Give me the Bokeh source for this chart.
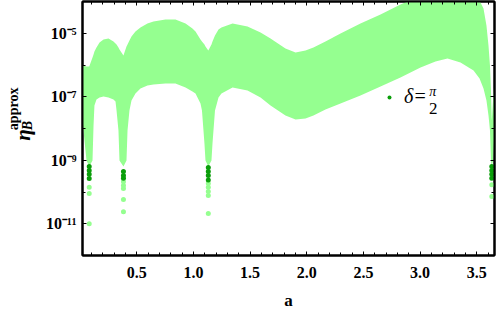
import numpy as np
from bokeh.plotting import figure
from bokeh.layouts import row
from bokeh.models import (FixedTicker, CustomJSTickFormatter, LinearAxis, LogAxis,
                          Label, Legend, LegendItem)
from bokeh.embed import file_html
from bokeh.resources import INLINE

# ---- data (envelope of the densely oscillating band) ----
a_env = [0.021, 0.029, 0.056, 0.080, 0.109, 0.118, 0.126, 0.144, 0.171, 0.206,
         0.250, 0.294, 0.312, 0.321, 0.338, 0.347, 0.382, 0.409, 0.418, 0.435,
         0.453, 0.488, 0.532, 0.594, 0.647, 0.753, 0.841, 0.930, 0.991, 1.018,
         1.062, 1.075, 1.097, 1.106, 1.131, 1.159, 1.168, 1.190, 1.221, 1.247,
         1.345, 1.477, 1.592, 1.680, 1.812, 1.901, 1.989, 2.059, 2.165, 2.298,
         2.474, 2.651, 2.827, 3.004, 3.136, 3.242, 3.357, 3.472, 3.525, 3.560,
         3.586, 3.604, 3.617, 3.626, 3.633, 3.644, 3.657]

eta_upper = [9.6e-7, 9.6e-7, 9.0e-7, 9.0e-7, 1.72e-6, 2.14e-6, 2.66e-6, 3.56e-6, 5.1e-6, 6.4e-6,
             6.8e-6, 5.5e-6, 4.75e-6, 4.4e-6, 3.56e-6, 3.08e-6, 1.99e-6, 3.8e-6, 4.4e-6, 5.9e-6,
             7.9e-6, 1.14e-5, 1.52e-5, 2.03e-5, 2.34e-5, 2.71e-5, 2.71e-5, 2.03e-5, 1.41e-5, 1.14e-5,
             6.4e-6, 5.5e-6, 4.4e-6, 3.8e-6, 2.86e-6, 4.4e-6, 5.5e-6, 8.5e-6, 1.31e-5, 1.52e-5,
             2.03e-5, 1.63e-5, 1.06e-5, 6.8e-6, 3.3e-6, 2.48e-6, 2.86e-6, 3.56e-6, 5.5e-6, 9.8e-6,
             2.03e-5, 3.9e-5, 8.0e-5, 1.5e-4, 2.1e-4, 2.2e-4, 1.9e-4, 1.4e-4, 1.07e-4, 6.0e-5,
             1.75e-5, 4.1e-6, 9.6e-7, 1.57e-7, 1.79e-8, 7.6e-8, 3.25e-7]

eta_lower = [2.07e-8, 8.6e-9, 9.8e-10, 6.4e-10, 9.8e-10, 1.24e-8, 5.3e-8, 8.2e-8, 9.5e-8, 1.02e-7,
             9.5e-8, 8.2e-8, 7.1e-8, 3.69e-8, 8.6e-9, 9.8e-10, 6.4e-10, 9.8e-10, 8.6e-9, 3.69e-8,
             7.6e-8, 1.26e-7, 1.82e-7, 2.26e-7, 2.43e-7, 2.61e-7, 2.61e-7, 1.95e-7, 1.46e-7, 1.26e-7,
             6.1e-8, 3.69e-8, 3.37e-9, 9.8e-10, 6.4e-10, 9.8e-10, 3.37e-9, 3.69e-8, 9.5e-8, 1.26e-7,
             1.95e-7, 1.57e-7, 9.5e-8, 5.3e-8, 2.56e-8, 1.92e-8, 2.07e-8, 2.56e-8, 3.96e-8, 6.1e-8,
             1.09e-7, 2.10e-7, 4.04e-7, 8.3e-7, 1.29e-6, 1.60e-6, 1.20e-6, 6.7e-7, 3.76e-7, 1.82e-7,
             7.6e-8, 2.56e-8, 8.6e-9, 9.8e-10, 6.4e-10, 9.8e-10, 8.6e-9]

# isolated sample points below the dips
a_light_pts = [0.080, 0.080, 0.080,
               0.382, 0.382, 0.382, 0.382, 0.382,
               1.131, 1.131, 1.131, 1.131, 1.131,
               3.633, 3.633]
eta_light_pts = [1.4e-10, 9.0e-11, 1.0e-11,
                 2.1e-10, 1.6e-10, 1.29e-10, 5.8e-11, 2.4e-11,
                 1.85e-10, 1.4e-10, 1.04e-10, 7.8e-11, 2.1e-11,
                 1.7e-10, 7.2e-11]

a_dark_pts = [0.080, 0.080, 0.080, 0.080,
              0.382, 0.382, 0.382,
              1.131, 1.131, 1.131, 1.131,
              3.633, 3.633, 3.633, 3.633]
eta_dark_pts = [6.4e-10, 4.75e-10, 3.6e-10, 2.66e-10,
                4.4e-10, 3.3e-10, 2.7e-10,
                5.9e-10, 4.4e-10, 3.3e-10, 2.4e-10,
                6.4e-10, 4.75e-10, 3.6e-10, 2.7e-10]

x_ticks = [0.5, 1.0, 1.5, 2.0, 2.5, 3.0, 3.5]
x_tick_labels = ["0.5", "1.0", "1.5", "2.0", "2.5", "3.0", "3.5"]
x_minor_ticks = [round(0.1 * i, 1) for i in range(1, 37)]
y_ticks = [1e-11, 1e-9, 1e-7, 1e-5]
y_tick_labels = ["10\u207b\u00b9\u00b9", "10\u207b\u2079", "10\u207b\u2077", "10\u207b\u2075"]
y_minor_ticks = [1e-12, 1e-10, 1e-8, 1e-6, 1e-4]

legend_label = "\u03b4="

LIGHT = "#95FF90"
DARK = "#0A9E0A"
FONT = "Liberation Serif"
LABEL_W = 36

p = figure(width=500 - LABEL_W, height=312, x_range=(0.0206, 3.657), y_range=(1e-12, 1e-4),
           y_axis_type="log", output_backend="svg", toolbar_location=None,
           min_border_left=82 - LABEL_W, min_border_right=6, min_border_top=1,
           min_border_bottom=57)
p.grid.visible = False
p.background_fill_color = "white"
p.border_fill_color = "white"
p.outline_line_color = "black"
p.outline_line_width = 2

p.varea(x=a_env, y1=eta_lower, y2=eta_upper, fill_color=LIGHT)
p.scatter(a_light_pts, eta_light_pts, size=5, fill_color=LIGHT, line_color=None)
dark = p.scatter(a_dark_pts, eta_dark_pts, size=5, fill_color=DARK, line_color=None)

fmt_code = """
let best = 0, bd = Infinity;
for (let i = 0; i < tv.length; i++) {
  const d = Math.abs(tv[i] - tick) / Math.abs(tv[i]);
  if (d < bd) { bd = d; best = i; }
}
return tl[best];
"""
xfmt = CustomJSTickFormatter(args=dict(tv=x_ticks, tl=x_tick_labels), code=fmt_code)
yfmt = CustomJSTickFormatter(args=dict(tv=y_ticks, tl=y_tick_labels), code=fmt_code)
blank = CustomJSTickFormatter(code="return '';")
xtick = FixedTicker(ticks=x_ticks, minor_ticks=x_minor_ticks)
ytick = FixedTicker(ticks=y_ticks, minor_ticks=y_minor_ticks)


def style(ax):
    ax.axis_line_width = 2
    ax.axis_line_color = "black"
    ax.major_tick_in = 4
    ax.major_tick_out = 0
    ax.minor_tick_in = 3
    ax.minor_tick_out = 0
    ax.major_tick_line_width = 1
    ax.minor_tick_line_width = 1
    ax.major_tick_line_color = "black"
    ax.minor_tick_line_color = "black"
    ax.major_label_text_font = FONT
    ax.major_label_text_font_style = "bold"
    ax.major_label_text_color = "black"
    ax.major_label_text_font_size = "16px"


xa = p.xaxis[0]
xa.ticker = xtick
xa.formatter = xfmt
style(xa)
xa.major_label_standoff = 11
xa.axis_label = "a"
xa.axis_label_text_font = FONT
xa.axis_label_text_font_style = "bold"
xa.axis_label_text_font_size = "17px"
xa.axis_label_text_color = "black"
xa.axis_label_standoff = 10

ya = p.yaxis[0]
ya.ticker = ytick
ya.formatter = yfmt
style(ya)
ya.major_label_standoff = 6

top = LinearAxis(ticker=xtick, formatter=blank)
style(top)
top.major_label_standoff = 0
p.add_layout(top, "above")
right = LogAxis(ticker=ytick, formatter=blank)
style(right)
right.major_label_standoff = 0
p.add_layout(right, "right")

# legend
legend = Legend(items=[LegendItem(label=legend_label, renderers=[dark])], location=(302, 147),
                border_line_color=None, background_fill_alpha=0, padding=0, margin=0, spacing=0,
                glyph_width=10, glyph_height=20, label_standoff=10, label_text_font=FONT,
                label_text_font_style="italic", label_text_font_size="20px",
                label_text_color="black")
p.add_layout(legend)
p.add_layout(Label(x=3.113, y=1.43e-7, text="\u03c0", text_font=FONT, text_font_style="italic",
                   text_font_size="14px", text_align="center", text_baseline="middle",
                   text_color="black"))
p.add_layout(Label(x=3.117, y=4.4e-8, text="2", text_font=FONT, text_color="black",
                   text_font_size="17px", text_align="center", text_baseline="middle"))

# y-axis title eta_B^approx, drawn in a narrow label strip to the left of the plot
lab = figure(width=LABEL_W, height=312, x_range=(0, LABEL_W), y_range=(0, 312),
             output_backend="svg", toolbar_location=None, x_axis_location=None,
             y_axis_location=None, min_border=0)
lab.grid.visible = False
lab.outline_line_color = None
lab.background_fill_color = "white"
lab.border_fill_color = "white"
lab.add_layout(Label(x=22.5, y=141, text="\u03b7", angle=np.pi / 2, text_font=FONT,
                     text_font_style="bold italic", text_font_size="21px", text_color="black",
                     text_align="left", text_baseline="alphabetic"))
lab.add_layout(Label(x=27, y=154, text="B", angle=np.pi / 2, text_font=FONT,
                     text_font_style="bold italic", text_font_size="14px", text_color="black",
                     text_align="left", text_baseline="alphabetic"))
lab.add_layout(Label(x=13, y=154, text="approx", angle=np.pi / 2, text_font=FONT,
                     text_font_style="bold", text_font_size="14px", text_color="black",
                     text_align="left", text_baseline="alphabetic"))

layout = row(lab, p, spacing=0)

with open("out.html", "w", encoding="utf-8") as f:
    f.write(file_html(layout, INLINE))
